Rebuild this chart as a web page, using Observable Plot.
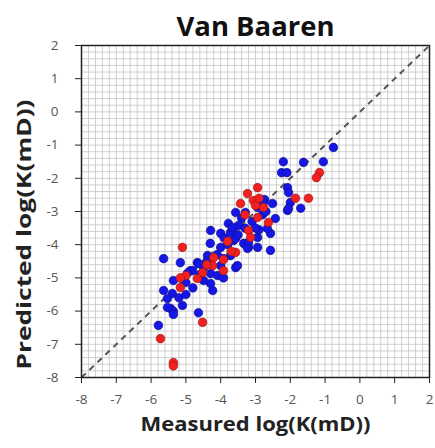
<!DOCTYPE html>
<html><head><meta charset="utf-8">
<script src="https://cdn.jsdelivr.net/npm/d3@7"></script>
<script src="https://cdn.jsdelivr.net/npm/@observablehq/plot@0.6"></script>
<style>body{margin:0;background:#fff;} #chart svg{font-family:"Open Sans",sans-serif;}</style>
</head><body><div id="chart"></div>
<script>
const title = "Van Baaren";
const xLabel = "Measured log(K(mD))";
const yLabel = "Predicted log(K(mD))";
const axisTicks = [-8, -7, -6, -5, -4, -3, -2, -1, 0, 1, 2];
const minorStep = 0.2;

const blueMeasured = [-0.76,-1.62,-2.2,-1.05,-2.25,-2.1,-2.08,-2.05,-2.0,-1.7,-2.74,-2.51,-3.57,-3.29,-2.43,-2.08,-3.78,-3.49,-4.29,-4.0,-3.72,-2.94,-2.57,-3.63,-3.34,-3.2,-2.94,-2.57,-4.3,-4.0,-3.72,-3.92,-4.38,-4.67,-4.49,-4.0,-3.57,-4.87,-4.29,-4.09,-5.64,-5.16,-4.64,-4.29,-4.81,-4.95,-5.36,-4.49,-4.29,-3.92,-4.23,-5.0,-5.64,-5.39,-5.53,-5.1,-5.44,-5.36,-4.64,-5.53,-5.36,-5.79,-2.94,-2.77,-2.05,-2.66,-3.66,-3.2,-3.57,-3.23,-3.52,-3.4,-2.9,-3.9,-3.3,-3.1,-2.8,-4.6,-4.4,-4.8,-5.2,-3.5,-2.7,-3.0,-4.1,-3.8,-5.0];
const bluePredicted = [-1.07,-1.52,-1.5,-1.5,-1.83,-1.83,-2.28,-2.43,-2.73,-2.9,-2.64,-2.76,-3.03,-3.03,-3.21,-2.97,-3.36,-3.42,-3.57,-3.66,-3.63,-3.78,-3.66,-3.87,-3.96,-4.08,-4.08,-4.17,-3.96,-4.08,-4.33,-4.42,-4.33,-4.54,-4.69,-4.63,-4.69,-4.78,-4.87,-4.93,-4.42,-4.54,-4.57,-4.6,-4.78,-4.85,-5.08,-5.08,-5.17,-5.0,-5.38,-5.14,-5.38,-5.47,-5.62,-5.83,-5.92,-6.0,-6.05,-5.89,-6.1,-6.43,-2.88,-2.73,-2.91,-3.51,-3.48,-3.93,-3.81,-4.11,-4.63,-3.2,-3.55,-3.8,-3.5,-3.3,-3.1,-4.9,-4.5,-5.3,-5.6,-3.7,-3.0,-3.5,-4.3,-4.0,-5.5];

const redMeasured = [-1.16,-1.25,-1.85,-1.48,-2.94,-3.23,-3.06,-3.43,-3.0,-2.77,-2.94,-2.63,-3.2,-3.14,-3.57,-4.2,-4.23,-3.92,-4.52,-5.1,-3.92,-5.0,-5.16,-4.67,-5.16,-4.52,-5.73,-5.36,-5.36,-3.7,-3.3,-4.4,-3.8,-2.9];
const redPredicted = [-1.83,-1.98,-2.6,-2.6,-2.28,-2.46,-2.67,-2.76,-2.82,-2.88,-3.18,-3.33,-3.57,-3.78,-4.23,-4.39,-4.63,-4.78,-4.84,-4.08,-4.45,-4.93,-5.0,-5.02,-5.29,-6.34,-6.83,-7.55,-7.65,-4.2,-3.1,-4.6,-3.9,-2.6];

const blue = blueMeasured.map((m, i) => ({measured: m, predicted: bluePredicted[i]}));
const red = redMeasured.map((m, i) => ({measured: m, predicted: redPredicted[i]}));
const lo = axisTicks[0], hi = axisTicks[axisTicks.length - 1];
const minorTicks = d3.range(lo, hi + minorStep / 2, minorStep);

const chart = Plot.plot({
  width: 435, height: 448,
  marginLeft: 81, marginRight: 6, marginTop: 45, marginBottom: 71,
  x: {domain: [lo, hi]},
  y: {domain: [lo, hi]},
  marks: [
    Plot.gridX(minorTicks, {stroke: "#c4c4c4", strokeOpacity: 1, strokeWidth: 0.8}),
    Plot.gridY(minorTicks, {stroke: "#c4c4c4", strokeOpacity: 1, strokeWidth: 0.8}),
    Plot.link([{a: lo, b: hi}], {x1: "a", y1: "a", x2: "b", y2: "b", stroke: "#555", strokeWidth: 2, strokeDasharray: "6,5"}),
    Plot.dot(blue, {x: "measured", y: "predicted", r: 4.3, fill: "#1616e6", stroke: "#0a0a80", strokeWidth: 0.6}),
    Plot.dot(red, {x: "measured", y: "predicted", r: 4.3, fill: "#f22020", stroke: "#901010", strokeWidth: 0.6}),
    Plot.frame({stroke: "#222", strokeWidth: 1.5}),
    Plot.axisX(axisTicks, {tickSize: 6, tickPadding: 11, fontSize: 13.5, fill: "#555", stroke: "#222", label: null, tickFormat: d => String(d)}),
    Plot.axisY(axisTicks, {tickSize: 6, tickPadding: 17, fontSize: 13.5, fill: "#555", stroke: "#222", label: null, tickFormat: d => String(d)}),
    Plot.text([title], {frameAnchor: "top", dy: -10, lineAnchor: "bottom", fontSize: 26, fontWeight: "bold", fill: "#111"}),
    Plot.text([xLabel], {frameAnchor: "bottom", dy: 53, lineAnchor: "bottom", fontSize: 19, fontWeight: "bold", fill: "#222"}),
    Plot.text([yLabel], {frameAnchor: "left", textAnchor: "middle", dx: -57, dy: 23, rotate: -90, fontSize: 19, fontWeight: "bold", fill: "#222"})
  ]
});
chart.querySelectorAll("text").forEach(t => {
  if (t.textContent === yLabel) { t.setAttribute("textLength", 270); t.setAttribute("lengthAdjust", "spacingAndGlyphs"); }
  if (t.textContent === xLabel) { t.setAttribute("textLength", 230); t.setAttribute("lengthAdjust", "spacingAndGlyphs"); }
  if (t.textContent === title) { t.setAttribute("textLength", 158); t.setAttribute("lengthAdjust", "spacingAndGlyphs"); }
});
document.getElementById("chart").appendChild(chart);
</script>
</body></html>
